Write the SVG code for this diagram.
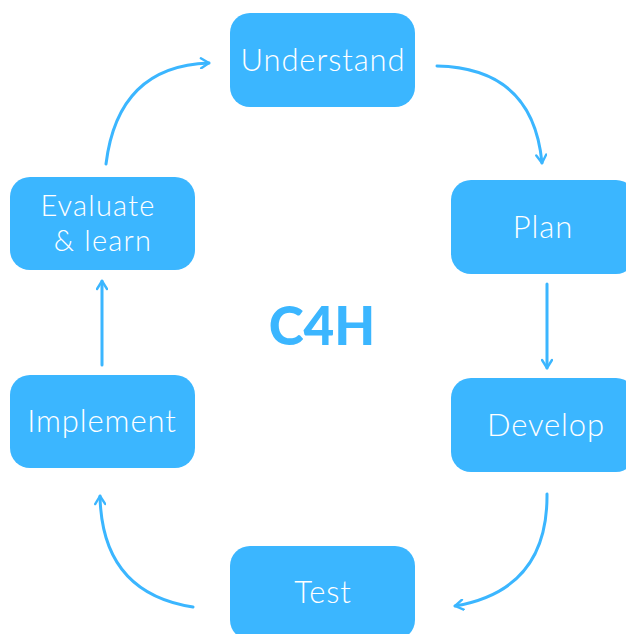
<svg xmlns="http://www.w3.org/2000/svg" width="626" height="634" viewBox="0 0 626 634">
  <style>
    .box { fill: #3BB6FF; }
    .lbl { fill: #ffffff; font-family: "Lato", "Open Sans", sans-serif; font-weight: 300; font-size: 31px; letter-spacing: 0.9px; text-anchor: middle; }
    .lbl.two { font-size: 29px; letter-spacing: 1.2px; }
    .edge { fill: none; stroke: #3BB6FF; stroke-width: 3; stroke-linecap: round; }
    .title { fill: #3BB6FF; font-family: "Lato", "Open Sans", sans-serif; font-weight: 900; font-size: 53px; text-anchor: middle; }
  </style>
  <defs>
    <marker id="chev" viewBox="0 0 12 12" refX="10" refY="6" markerWidth="4" markerHeight="4" orient="auto" markerUnits="strokeWidth">
      <path d="M2,1 L10,6 L2,11" fill="none" stroke="#3BB6FF" stroke-width="2.4" stroke-linecap="round" stroke-linejoin="round"/>
    </marker>
  </defs>

  <g id="connectors">
    <path class="edge" marker-end="url(#chev)" d="M437,66 Q533,68 542,163"/>
    <path class="edge" marker-end="url(#chev)" d="M547,284 L547,368"/>
    <path class="edge" marker-end="url(#chev)" d="M547,494 Q548,590 455,606"/>
    <path class="edge" marker-end="url(#chev)" d="M193,607 Q102,593 100,496"/>
    <path class="edge" marker-end="url(#chev)" d="M102,365 L102,281"/>
    <path class="edge" marker-end="url(#chev)" d="M106,164 Q118,66 209,63"/>
  </g>

  <g id="understand">
    <rect class="box" x="230" y="13" width="185" height="94" rx="20"/>
    <text class="lbl" x="323" y="71">Understand</text>
  </g>
  <g id="plan">
    <rect class="box" x="451" y="180" width="185" height="94" rx="20"/>
    <text class="lbl" x="543" y="238">Plan</text>
  </g>
  <g id="develop">
    <rect class="box" x="451" y="378" width="185" height="94" rx="20"/>
    <text class="lbl" x="546" y="436">Develop</text>
  </g>
  <g id="test">
    <rect class="box" x="230" y="546" width="185" height="94" rx="20"/>
    <text class="lbl" x="323" y="603">Test</text>
  </g>
  <g id="implement">
    <rect class="box" x="10" y="375" width="185" height="93" rx="20"/>
    <text class="lbl" x="102" y="432">Implement</text>
  </g>
  <g id="evaluate">
    <rect class="box" x="10" y="177" width="185" height="93" rx="20"/>
    <text class="lbl two"><tspan x="98" y="216">Evaluate</tspan><tspan x="103" y="251">&amp; learn</tspan></text>
  </g>

  <g id="center-title">
    <text class="title" x="322" y="345">C4H</text>
  </g>
</svg>
